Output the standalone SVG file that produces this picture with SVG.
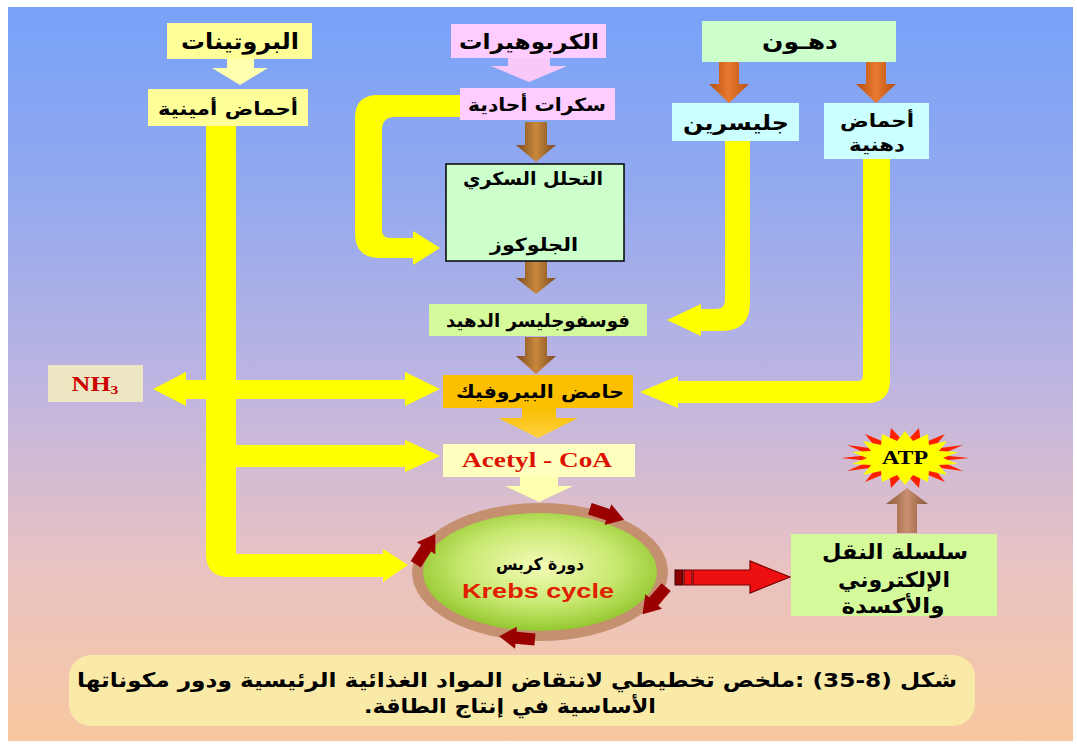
<svg xmlns="http://www.w3.org/2000/svg" width="1077" height="744" viewBox="0 0 1077 744">
  <defs>
    <linearGradient id="bg" x1="0" y1="0" x2="0" y2="1">
      <stop offset="0" stop-color="#78a2f8"/>
      <stop offset="0.25" stop-color="#93a9ef"/>
      <stop offset="0.5" stop-color="#bbb4e2"/>
      <stop offset="0.75" stop-color="#e8c2c4"/>
      <stop offset="1" stop-color="#f8c8a0"/>
    </linearGradient>
    <linearGradient id="brown" x1="0" y1="0" x2="1" y2="0">
      <stop offset="0" stop-color="#7a4a1e"/>
      <stop offset="0.5" stop-color="#c8883c"/>
      <stop offset="1" stop-color="#7a4a1e"/>
    </linearGradient>
    <linearGradient id="rust" x1="0" y1="0" x2="1" y2="0">
      <stop offset="0" stop-color="#b84e10"/>
      <stop offset="0.5" stop-color="#e87a30"/>
      <stop offset="1" stop-color="#b84e10"/>
    </linearGradient>
    <linearGradient id="upBrown" x1="0" y1="0" x2="1" y2="0">
      <stop offset="0" stop-color="#8a5538"/>
      <stop offset="0.5" stop-color="#c89070"/>
      <stop offset="1" stop-color="#8a5538"/>
    </linearGradient>
    <linearGradient id="gold" x1="0" y1="0" x2="0" y2="1">
      <stop offset="0" stop-color="#f8c000"/>
      <stop offset="1" stop-color="#ffd040"/>
    </linearGradient>
    <radialGradient id="krebsFill" cx="0.5" cy="0.45" r="0.55">
      <stop offset="0" stop-color="#f4fcb8"/>
      <stop offset="0.6" stop-color="#c8e870"/>
      <stop offset="1" stop-color="#94c830"/>
    </radialGradient>
    <path id="ringArrow" d="M-17,-6 L2,-6 L2,-11 L19,0 L2,11 L2,6 L-17,6 Z"/>
  </defs>
  <style>
    .ar { font-family: "DejaVu Sans", "Noto Sans", sans-serif; font-weight: bold; fill: #000; text-anchor: middle; direction: rtl; }
    .lat { font-family: "Liberation Serif", serif; font-weight: bold; text-anchor: middle; }
    .yel { fill: #ffff00; }
    .boxY { fill: #ffff99; }
    .boxPink { fill: #ffccff; }
    .boxMint { fill: #ccffcc; }
    .boxCyan { fill: #ccffff; }
    .boxLime { fill: #d4fa9c; }
    .ring { fill: #9a0000; }
  </style>

  <!-- backdrop -->
  <rect x="0" y="0" width="1077" height="744" fill="#ffffff"/>
  <rect x="8" y="7" width="1065" height="734" fill="url(#bg)"/>

  <!-- connectors -->
  <g id="connectors">
    <!-- proteins -> amino acids -->
    <path d="M227,59 H254 V68 H268 L240,85 L212,68 H227 Z" fill="#ffffb0"/>
    <!-- carbohydrates -> monosaccharides -->
    <path d="M508,58 H550 V66 H567 L529,82 L491,66 H508 Z" fill="#f8c8f8"/>
    <!-- fats -> glycerol / fatty acids -->
    <path d="M719,62 H739 V84 H749 L729,103 L709,84 H719 Z" fill="url(#rust)"/>
    <path d="M866,62 H886 V84 H896 L876,103 L856,84 H866 Z" fill="url(#rust)"/>
    <!-- central brown chain -->
    <path d="M525,122 H547 V145 H556 L536,162 L516,145 H525 Z" fill="url(#brown)"/>
    <path d="M525,191 H547 V213 H557 L536,232 L515,213 H525 Z" fill="#e89428" stroke="#5a3a18" stroke-width="1.2"/>
    <path d="M525,262 H547 V278 H556 L536,294 L516,278 H525 Z" fill="url(#brown)"/>
    <path d="M525,337 H547 V356 H556 L536,374 L516,356 H525 Z" fill="url(#brown)"/>
    <!-- pyruvate -> acetyl CoA -->
    <path d="M522,408 H556 V418 H578 L538,438 L498,418 H522 Z" fill="url(#gold)"/>
    <!-- acetyl CoA -> Krebs -->
    <path d="M520,477 H558 V486 H573 L539,502 L505,486 H520 Z" fill="#ffffb0"/>
    <!-- amino acid trunk with branches -->
    <path class="yel" d="M206,126 H236 V554 H383 V549 L408,565 L383,582 V577 H229 Q206,577 206,554 Z"/>
    <path class="yel" d="M236,445 H405 V440 L440,456 L405,472 V467 H236 Z"/>
    <path class="yel" d="M153,389 L186,372 V380 H405 V372 L440,389 L405,406 V399 H186 V406 Z"/>
    <!-- monosaccharides bypass to glucose -->
    <path class="yel" d="M461,95 V117 H395 Q382,117 382,130 V230 Q382,238 390,238 H413 V231 L440,248 L413,265 V258 H380 Q355,258 355,233 V118 Q355,95 378,95 Z"/>
    <!-- glycerol -> PGAL -->
    <path class="yel" d="M725,141 H750 V302 Q750,331 722,331 H701 V336 L667,320 L701,304 V309 H716 Q725,309 725,300 Z"/>
    <!-- fatty acids -> pyruvate -->
    <path class="yel" d="M863,159 H890 V380 Q890,403 867,403 H678 V408 L640,392 L678,376 V381 H858 Q863,381 863,376 Z"/>
    <!-- Krebs -> electron transport -->
    <rect x="675" y="570" width="8" height="15" fill="#8a0000" stroke="#400000" stroke-width="1"/>
    <rect x="684" y="570" width="8" height="15" fill="#ee1010" stroke="#600000" stroke-width="1"/>
    <path d="M693,570 H750 V561 L790,577 L750,593 V585 H693 Z" fill="#ee1010" stroke="#7a0000" stroke-width="1.2"/>
    <!-- electron transport -> ATP -->
    <path d="M897,533 H917 V504 H928 L907,488 L886,504 H897 Z" fill="url(#upBrown)"/>
  </g>

  <!-- proteins branch -->
  <g id="proteins">
    <rect class="boxY" x="167" y="23" width="145" height="36"/>
    <text class="ar" x="240" y="49" font-size="22" textLength="118" lengthAdjust="spacingAndGlyphs">البروتينات</text>
  </g>
  <g id="amino-acids">
    <rect class="boxY" x="148" y="89" width="160" height="37"/>
    <text class="ar" x="228" y="115" font-size="18" textLength="140" lengthAdjust="spacingAndGlyphs">أحماض أمينية</text>
  </g>
  <g id="ammonia">
    <rect x="48" y="365" width="95" height="37" fill="#ece6c2"/>
    <text class="lat" transform="translate(95,391) scale(1.3,1)" x="0" y="0" font-size="20" fill="#cc0000">NH<tspan font-size="12" dy="3">3</tspan></text>
  </g>

  <!-- carbohydrate branch -->
  <g id="carbohydrates">
    <rect class="boxPink" x="451" y="24" width="155" height="34"/>
    <text class="ar" x="529" y="49" font-size="21" textLength="140" lengthAdjust="spacingAndGlyphs">الكربوهيرات</text>
  </g>
  <g id="monosaccharides">
    <rect class="boxPink" x="460" y="88" width="155" height="32"/>
    <text class="ar" x="537" y="111" font-size="18" textLength="138" lengthAdjust="spacingAndGlyphs">سكرات أحادية</text>
  </g>
  <g id="glycolysis">
    <rect class="boxMint" x="446" y="164" width="178" height="97" stroke="#000" stroke-width="1.5"/>
    <text class="ar" x="533" y="185" font-size="18" textLength="140" lengthAdjust="spacingAndGlyphs">التحلل السكري</text>
    <text class="ar" x="534" y="251" font-size="18" textLength="88" lengthAdjust="spacingAndGlyphs">الجلوكوز</text>
  </g>
  <g id="pgal">
    <rect class="boxLime" x="429" y="304" width="218" height="32"/>
    <text class="ar" x="538" y="327" font-size="18" textLength="184" lengthAdjust="spacingAndGlyphs">فوسفوجليسر الدهيد</text>
  </g>
  <g id="pyruvate">
    <rect x="443" y="375" width="190" height="33" fill="#fcc000"/>
    <text class="ar" x="540" y="398" font-size="18" textLength="168" lengthAdjust="spacingAndGlyphs">حامض البيروفيك</text>
  </g>
  <g id="acetyl-coa">
    <rect x="443" y="444" width="192" height="33" fill="#ffffc0"/>
    <text class="lat" x="537" y="467" font-size="21" fill="#dd1100" textLength="150" lengthAdjust="spacingAndGlyphs">Acetyl - CoA</text>
  </g>

  <!-- fat branch -->
  <g id="fats">
    <rect class="boxMint" x="702" y="21" width="194" height="41"/>
    <text class="ar" x="800" y="49" font-size="21" textLength="76" lengthAdjust="spacingAndGlyphs">دهـون</text>
  </g>
  <g id="glycerol">
    <rect class="boxCyan" x="672" y="103" width="127" height="38"/>
    <text class="ar" x="736" y="130" font-size="21" textLength="106" lengthAdjust="spacingAndGlyphs">جليسرين</text>
  </g>
  <g id="fatty-acids">
    <rect class="boxCyan" x="824" y="103" width="105" height="56"/>
    <text class="ar" x="877" y="127" font-size="18" textLength="74" lengthAdjust="spacingAndGlyphs">أحماض</text>
    <text class="ar" x="877" y="151" font-size="18" textLength="56" lengthAdjust="spacingAndGlyphs">دهنية</text>
  </g>

  <!-- Krebs cycle -->
  <g id="krebs-cycle">
    <ellipse cx="540" cy="572" rx="128" ry="69" fill="#c49070"/>
    <ellipse cx="540" cy="572" rx="117" ry="59" fill="url(#krebsFill)"/>
    <use href="#ringArrow" class="ring" transform="translate(606,514) rotate(18)"/>
    <use href="#ringArrow" class="ring" transform="translate(425,550) rotate(-57)"/>
    <use href="#ringArrow" class="ring" transform="translate(655,600) rotate(131)"/>
    <use href="#ringArrow" class="ring" transform="translate(518,638) rotate(185)"/>
    <text class="ar" x="540" y="570" font-size="17" textLength="88" lengthAdjust="spacingAndGlyphs">دورة كربس</text>
    <text x="538" y="598" font-family="Liberation Sans, Arial, sans-serif" font-weight="bold" font-size="20" fill="#e02000" text-anchor="middle" textLength="152" lengthAdjust="spacingAndGlyphs">Krebs cycle</text>
  </g>

  <!-- electron transport chain -->
  <g id="electron-transport">
    <rect class="boxLime" x="791" y="534" width="206" height="82"/>
    <text class="ar" x="895" y="559" font-size="21" textLength="146" lengthAdjust="spacingAndGlyphs">سلسلة النقل</text>
    <text class="ar" x="894" y="587" font-size="21" textLength="112" lengthAdjust="spacingAndGlyphs">الإلكتروني</text>
    <text class="ar" x="893" y="613" font-size="21" textLength="103" lengthAdjust="spacingAndGlyphs">والأكسدة</text>
  </g>

  <!-- ATP burst -->
  <g id="atp">
    <polygon fill="#ff2000" points="969,458 940,461 963,471 933,467 945,482 921,472 919,488 905,473 891,488 889,472 865,482 877,467 847,471 870,461 841,458 870,455 847,445 877,449 865,434 889,444 891,428 905,443 919,428 921,444 945,434 933,449 963,445 940,455"/>
    <polygon fill="#ffff00" points="943,458 958,464 939,465 947,475 929,471 928,482 913,475 905,485 897,475 882,482 881,471 863,475 871,465 852,464 867,458 852,452 871,451 863,441 881,445 882,434 897,441 905,431 913,441 928,434 929,445 947,441 939,451 958,452"/>
    <text class="lat" x="905" y="464" font-size="19" fill="#000" textLength="46" lengthAdjust="spacingAndGlyphs">ATP</text>
  </g>

  <!-- figure caption -->
  <g id="caption">
    <rect x="69" y="655" width="906" height="71" rx="22" fill="#faeaa8"/>
    <text class="ar" x="517" y="687" font-size="20" textLength="880" lengthAdjust="spacingAndGlyphs">شكل (8-35) :ملخص تخطيطي لانتقاض المواد الغذائية الرئيسية ودور مكوناتها</text>
    <text class="ar" x="510" y="713" font-size="20" textLength="292" lengthAdjust="spacingAndGlyphs">الأساسية في إنتاج الطاقة.</text>
  </g>
</svg>
